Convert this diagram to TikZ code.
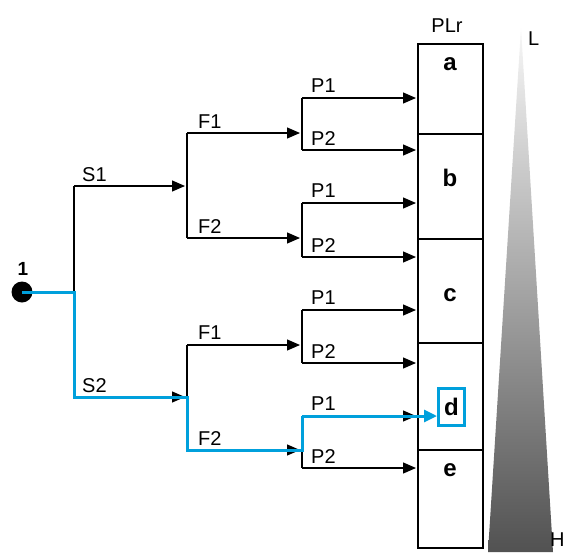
\documentclass[tikz,border=0pt]{standalone}
\usepackage{fontspec}
\setmainfont{Liberation Sans}
\usetikzlibrary{arrows.meta}
\definecolor{pathblue}{RGB}{0,160,220}
\tikzset{
  stem/.style={line width=1.2pt},
  branch/.style={line width=1.2pt,-{Triangle[length=13pt,width=11pt]},shorten >=2pt},
  choice/.style={line width=3pt,pathblue},
  lbl/.style={anchor=base west,inner sep=0pt,font=\fontsize{20}{20}\selectfont},
  cell/.style={draw,line width=1.2pt,minimum width=65pt,anchor=north west,inner sep=0pt,outer sep=0pt},
  cellname/.style={inner sep=0pt,font=\fontsize{24}{24}\selectfont\bfseries},
}
\begin{document}
\begin{tikzpicture}[x=1pt,y=-1pt]
    \useasboundingbox (0,0) rectangle (568,552);
    \shade[top color=black!3,bottom color=black!68] (521,28) -- (553,552) -- (488,552) -- cycle;
    \node[lbl] (low) at (528,45) {L};
    \node[lbl] (high) at (550,546) {H};

    \node[cell,minimum height=90pt] (ca) at (418,44) {};
    \node[cell,minimum height=105pt] (cb) at (ca.south west) {};
    \node[cell,minimum height=104pt] (cc) at (cb.south west) {};
    \node[cell,minimum height=107pt] (cd) at (cc.south west) {};
    \node[cell,minimum height=98pt] (ce) at (cd.south west) {};
    \node[font=\fontsize{20}{20}\selectfont,inner sep=0pt] (plr) at (447,26) {PLr};
    \node[cellname] (la) at (450,64) {a};
    \node[cellname] (lb) at (450,178) {b};
    \node[cellname] (lc) at (450,295) {c};
    \node[cellname,draw=pathblue,line width=3pt,minimum width=26pt,minimum height=37pt] (ld) at (451.5,407) {d};
    \node[cellname] (le) at (450,470) {e};

    \node[circle,fill,minimum size=21pt,inner sep=0pt] (start) at (22,292) {};
    \node[inner sep=0pt,font=\fontsize{19}{19}\selectfont\bfseries] (one) at (23,269) {1};

    \coordinate (t) at (74,292); \coordinate (tS1) at (74,186); \coordinate (tS2) at (74,397);
    \coordinate (fA) at (187,186); \coordinate (fA1) at (187,133); \coordinate (fA2) at (187,238);
    \coordinate (fB) at (187,397); \coordinate (fB1) at (187,345); \coordinate (fB2) at (187,450);

    \draw[stem] (start) -- (t);
    \draw[stem] (tS1) -- (tS2);
    \draw[branch] (tS1) -- (fA); \node[lbl] (ls1) at (82,181) {S1};
    \draw[branch] (tS2) -- (fB); \node[lbl] (ls2) at (82,392) {S2};
    \draw[stem] (fA1) -- (fA2);
    \draw[stem] (fB1) -- (fB2);

    \foreach \n/\ya/\yb/\yf in {1/98/150/133, 2/203/257/238, 3/310/363/345, 4/416/468/450} {
      \coordinate (p\n) at (302,\yf);
      \coordinate (p\n a) at (302,\ya);
      \coordinate (p\n b) at (302,\yb);
      \draw[stem] (p\n a) -- (p\n b);
      \draw[branch] (p\n a) -- (p\n a -| ca.west);
      \draw[branch] (p\n b) -- (p\n b -| ca.west);
      \node[lbl] (lp\n a) at (311,\ya-6) {P1};
      \node[lbl] (lp\n b) at (311,\yb-5) {P2};
    }
    \draw[branch] (fA1) -- (p1); \node[lbl] (lf1) at (198,128) {F1};
    \draw[branch] (fA2) -- (p2); \node[lbl] (lf2) at (198,233) {F2};
    \draw[branch] (fB1) -- (p3); \node[lbl] (lf3) at (198,339) {F1};
    \draw[branch] (fB2) -- (p4); \node[lbl] (lf4) at (198,445) {F2};

    \draw[choice] (start.center) -- (t) -- (tS2) -- (fB) -- (fB2) -- (p4) -- (p4a);
    \draw[choice,-{Triangle[length=13pt,width=12pt]}] (p4a) -- (p4a -| ld.west);
\end{tikzpicture}
\end{document}
